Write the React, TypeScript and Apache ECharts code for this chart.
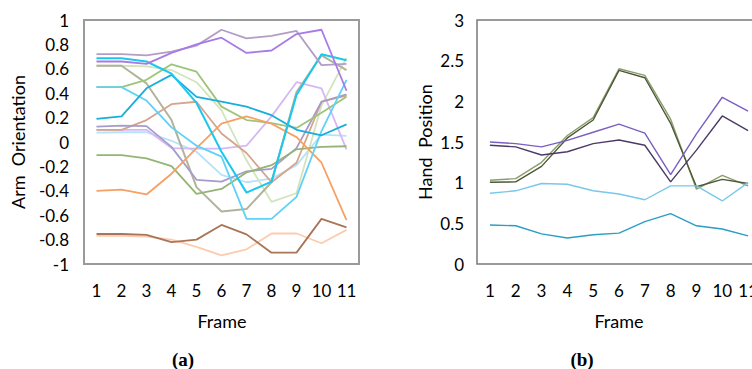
import React, { useEffect, useRef } from "react";
import * as echarts from "echarts";

// Frame numbers shared by both panels
const frames = ["1", "2", "3", "4", "5", "6", "7", "8", "9", "10", "11"];

// (a) Arm orientation per joint
const armLavGray = [0.72, 0.72, 0.71, 0.74, 0.79, 0.92, 0.85, 0.87, 0.91, 0.63, 0.64];
const armViolet = [0.66, 0.66, 0.64, 0.73, 0.8, 0.855, 0.73, 0.75, 0.885, 0.92, 0.42];
const armCyan = [0.686, 0.686, 0.66, 0.56, 0.32, -0.08, -0.415, -0.325, 0.385, 0.72, 0.67];
const armBlue = [0.19, 0.21, 0.44, 0.55, 0.37, 0.33, 0.29, 0.22, 0.1, 0.055, 0.145];
const armSky = [0.45, 0.45, 0.34, 0.12, -0.03, -0.12, -0.63, -0.63, -0.45, 0.09, 0.51];
const armOlive = [0.625, 0.625, 0.48, 0.18, -0.37, -0.57, -0.55, -0.33, 0.41, 0.71, 0.59];
const armGreen = [0.45, 0.45, 0.51, 0.637, 0.576, 0.29, 0.18, 0.155, 0.115, 0.24, 0.37];
const armPaleGreen = [0.625, 0.625, 0.62, 0.59, 0.49, 0.26, -0.15, -0.49, -0.42, 0.3, 0.69];
const armOrange = [-0.4, -0.39, -0.43, -0.26, -0.05, 0.15, 0.21, 0.15, 0.04, -0.17, -0.64];
const armRose = [0.1, 0.1, 0.18, 0.31, 0.33, 0.07, -0.09, -0.33, -0.17, 0.33, 0.38];
const armSlate = [0.126, 0.134, 0.13, -0.04, -0.31, -0.325, -0.24, -0.22, -0.05, 0.33, 0.39];
const armLilac = [0.1, 0.1, 0.1, -0.05, -0.055, -0.055, -0.03, 0.21, 0.49, 0.44, -0.06];
const armIce = [0.077, 0.08, 0.08, 0.01, -0.08, -0.27, -0.33, -0.3, -0.19, 0.06, 0.05];
const armBrown = [-0.754, -0.754, -0.762, -0.82, -0.8, -0.68, -0.757, -0.907, -0.907, -0.63, -0.7];
const armPeach = [-0.77, -0.77, -0.775, -0.8, -0.86, -0.93, -0.88, -0.75, -0.75, -0.83, -0.72];
const armMoss = [-0.107, -0.107, -0.134, -0.197, -0.426, -0.385, -0.25, -0.19, -0.06, -0.04, -0.035];

// (b) Hand position per joint
const handPurple = [1.5, 1.48, 1.44, 1.52, 1.62, 1.72, 1.61, 1.1, 1.6, 2.05, 1.88];
const handPlum = [1.46, 1.44, 1.34, 1.38, 1.48, 1.525, 1.46, 1.01, 1.4, 1.82, 1.64];
const handSage = [1.03, 1.05, 1.25, 1.58, 1.8, 2.4, 2.32, 1.78, 0.92, 1.09, 0.96];
const handFern = [1.005, 1.01, 1.2, 1.55, 1.77, 2.38, 2.29, 1.73, 0.95, 1.04, 0.99];
const handSky = [0.87, 0.9, 0.99, 0.98, 0.9, 0.86, 0.79, 0.96, 0.96, 0.775, 1.0];
const handTeal = [0.48, 0.47, 0.37, 0.32, 0.36, 0.38, 0.52, 0.62, 0.47, 0.43, 0.345];

// y tick values
const armTicks = [-1, -0.8, -0.6, -0.4, -0.2, 0, 0.2, 0.4, 0.6, 0.8, 1];
const handTicks = [0, 0.5, 1, 1.5, 2, 2.5, 3];

const FONT = "Lato";

const armSeries: [number[], string, number][] = [
  [armPeach, "#fdccb0", 1.8],
  [armIce, "#b4e2fa", 1.8],
  [armPaleGreen, "#d3e3bd", 1.8],
  [armLilac, "#d5b8f5", 1.8],
  [armOlive, "#b0b49a", 2],
  [armRose, "#d6a48c", 1.8],
  [armSlate, "#a69ccb", 1.8],
  [armMoss, "#94b574", 1.8],
  [armGreen, "#9ec47a", 1.8],
  [armOrange, "#f7a064", 1.8],
  [armBrown, "#a97558", 1.8],
  [armSky, "#5fd2f5", 1.8],
  [armBlue, "#18aedb", 1.8],
  [armCyan, "#1cc7ef", 2],
  [armLavGray, "#b39dc6", 1.8],
  [armViolet, "#a77be6", 1.8],
];

const handSeries: [number[], string, number][] = [
  [handSage, "#8a9e6c", 1.4],
  [handFern, "#4d5838", 1.4],
  [handSky, "#78c8ea", 1.4],
  [handTeal, "#2a9ec4", 1.4],
  [handPlum, "#4b3b66", 1.4],
  [handPurple, "#7b5fc0", 1.4],
];

const fmt = (v: number) => String(Number(v.toFixed(1)));

export default function App() {
  const ref = useRef<HTMLDivElement>(null);

  useEffect(() => {
    if (!ref.current) return;
    const chart = echarts.init(ref.current, null, { renderer: "svg" });

    const labelStyle = { color: "#000", fontFamily: FONT, fontSize: 17 };

    const series: any[] = [];
    armSeries.forEach(([data, color, w]) =>
      series.push({
        type: "line",
        xAxisIndex: 0,
        yAxisIndex: 0,
        data,
        symbol: "none",
        lineStyle: { color, width: w },
      })
    );
    handSeries.forEach(([data, color, w]) =>
      series.push({
        type: "line",
        xAxisIndex: 1,
        yAxisIndex: 1,
        data,
        symbol: "none",
        lineStyle: { color, width: w },
      })
    );

    const titleStyle = { fontFamily: FONT, fontSize: 18, fill: "#000", align: "center", verticalAlign: "middle" };
    const captionStyle = {
      fontFamily: "Liberation Serif",
      fontSize: 19,
      fontWeight: "bold",
      fill: "#000",
      align: "center",
      verticalAlign: "middle",
    };

    chart.setOption({
      animation: false,
      backgroundColor: "#fff",
      grid: [
        {
          left: 84,
          top: 20,
          width: 275,
          height: 244,
          show: true,
          borderColor: "#9a9a9a",
          borderWidth: 2,
          outerBoundsMode: "none",
        },
        {
          left: 477,
          top: 20,
          width: 284,
          height: 244,
          show: true,
          borderColor: "#7a7a7a",
          borderWidth: 1.5,
          outerBoundsMode: "none",
        },
      ],
      xAxis: [0, 1].map((i) => ({
        type: "category",
        gridIndex: i,
        data: frames,
        boundaryGap: true,
        axisLine: { show: false },
        axisTick: { show: false },
        splitLine: { show: false },
        axisLabel: { ...labelStyle, margin: 18, interval: 0 },
      })),
      yAxis: [
        {
          type: "value",
          gridIndex: 0,
          min: armTicks[0],
          max: armTicks[armTicks.length - 1],
          interval: 0.2,
          axisLine: { show: false },
          axisTick: { show: false },
          splitLine: { show: false },
          axisLabel: { ...labelStyle, margin: 15, formatter: fmt },
        },
        {
          type: "value",
          gridIndex: 1,
          min: handTicks[0],
          max: handTicks[handTicks.length - 1],
          interval: 0.5,
          axisLine: { show: false },
          axisTick: { show: false },
          splitLine: { show: false },
          axisLabel: { ...labelStyle, margin: 13, formatter: fmt },
        },
      ],
      graphic: [
        { type: "text", x: 18, y: 142, rotation: Math.PI / 2, style: { ...titleStyle, text: "Arm  Orientation" } },
        { type: "text", x: 425, y: 142, rotation: Math.PI / 2, style: { ...titleStyle, text: "Hand  Position" } },
        { type: "text", x: 222, y: 321, style: { ...titleStyle, text: "Frame" } },
        { type: "text", x: 619, y: 321, style: { ...titleStyle, text: "Frame" } },
        { type: "text", x: 183, y: 359, style: { ...captionStyle, text: "(a)" } },
        { type: "text", x: 582, y: 359, style: { ...captionStyle, text: "(b)" } },
      ],
      series,
    });

    return () => chart.dispose();
  }, []);

  return (
    <div
      ref={ref}
      style={{ position: "absolute", left: 0, top: 0, width: 752, height: 369, overflow: "hidden" }}
    />
  );
}
